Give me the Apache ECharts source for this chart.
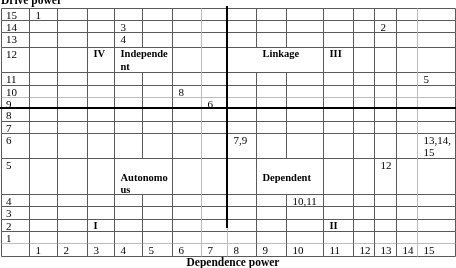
<!DOCTYPE html>
<html>
<head>
<meta charset="utf-8">
<script src="https://cdn.jsdelivr.net/npm/echarts@6/dist/echarts.min.js"></script>
<style>
  html, body { margin: 0; padding: 0; background: #fff; }
  #chart { width: 456px; height: 268px; }
</style>
</head>
<body>
<div id="chart"></div>
<script>
// tick labels
const dependenceTicks = ['1', '2', '3', '4', '5', '6', '7', '8', '9', '10', '11', '12', '13', '14', '15'];
const driveTicks = ['15', '14', '13', '12', '11', '10', '9', '8', '7', '6', '5', '4', '3', '2', '1'];

// variables placed in the matrix: [dependence, drive, label]
const variables = [
  [1, 15, '1'],
  [4, 14, '3'],
  [13, 14, '2'],
  [4, 13, '4'],
  [15, 11, '5'],
  [6, 10, '8'],
  [7, 9, '6'],
  [8, 6, '7,9'],
  [15, 6, '13,14,\n15'],
  [13, 5, '12'],
  [10, 4, '10,11']
];

// cluster names: [dependence, drive, label]
const clusters = [
  [3, 12, 'IV'],
  [4, 12, 'Independe\nnt'],
  [9, 12, 'Linkage'],
  [11, 12, 'III'],
  [4, 5, '\nAutonomo\nus'],
  [9, 5, '\nDependent'],
  [3, 2, 'I'],
  [11, 2, 'II']
];

// table layout (px): label column + 15 dependence columns, 15 drive rows + tick row
const colEdges = [1.5, 29.5, 57.5, 87.5, 114.5, 142.5, 172.5, 201.5, 227.5, 256.5, 286.5, 323.5, 353.5, 374.5, 396.5, 417.5, 455.5];
const rowEdges = [8.5, 20.5, 32.5, 47.5, 72.5, 85.5, 97.5, 108.5, 121.5, 133.5, 158.5, 194.5, 206.5, 219.5, 231.5, 243.5, 256.5];
const merges = [
  { drive: 12, from: 4, to: 5 },
  { drive: 12, from: 8, to: 10 },
  { drive: 5, from: 4, to: 5 },
  { drive: 5, from: 9, to: 10 }
];
const lightCols = [7, 8, 15];
const lightRows = [6, 15];

const rowOf = d => 15 - d;

// grid lines
const lines = [];
rowEdges.forEach((y, j) => {
  lines.push([colEdges[0], y, colEdges[16], y, lightRows.includes(j) ? 1 : 0]);
});
colEdges.forEach((x, i) => {
  for (let r = 0; r < 16; r++) {
    const hidden = merges.some(m => rowOf(m.drive) === r && i > m.from && i <= m.to);
    if (hidden) continue;
    lines.push([x, rowEdges[r], x, rowEdges[r + 1], lightCols.includes(i) ? 1 : 0]);
  }
});

// texts: [col, row, text, bold]
const texts = [];
driveTicks.forEach((t, r) => texts.push([0, r, t, false]));
dependenceTicks.forEach((t, c) => texts.push([c + 1, 15, t, false]));
variables.forEach(v => texts.push([v[0], rowOf(v[1]), v[2], false]));
clusters.forEach(v => texts.push([v[0], rowOf(v[1]), v[2], true]));

const chart = echarts.init(document.getElementById('chart'));

chart.setOption({
  animation: false,
  title: [
    {
      text: 'Drive power', left: 1, top: -5, padding: 0,
      textStyle: { fontFamily: 'Liberation Serif', fontSize: 11.5, fontWeight: 'bold', color: '#000' }
    },
    {
      text: 'Dependence power', left: 233, top: 257, padding: 0, textAlign: 'center',
      textStyle: { fontFamily: 'Liberation Serif', fontSize: 11.5, fontWeight: 'bold', color: '#000' }
    }
  ],
  grid: { left: 0, right: 0, top: 0, bottom: 0 },
  xAxis: { type: 'value', min: 0, max: 456, show: false },
  yAxis: { type: 'value', min: 0, max: 268, inverse: true, show: false },
  series: [
    {
      type: 'custom',
      silent: true,
      data: lines,
      renderItem: (params, api) => {
        const p1 = api.coord([api.value(0), api.value(1)]);
        const p2 = api.coord([api.value(2), api.value(3)]);
        return {
          type: 'line',
          shape: { x1: p1[0], y1: p1[1], x2: p2[0], y2: p2[1] },
          style: { stroke: api.value(4) ? '#bcbcbc' : '#5a5a5a', lineWidth: 1 }
        };
      }
    },
    {
      // quadrant dividers
      type: 'custom',
      silent: true,
      data: [
        [colEdges[8] - 0.5, 6, colEdges[8] - 0.5, 228],
        [0, rowEdges[7] - 0.5, 456, rowEdges[7] - 0.5]
      ],
      renderItem: (params, api) => {
        const p1 = api.coord([api.value(0), api.value(1)]);
        const p2 = api.coord([api.value(2), api.value(3)]);
        return {
          type: 'line',
          shape: { x1: p1[0], y1: p1[1], x2: p2[0], y2: p2[1] },
          style: { stroke: '#000', lineWidth: 2 }
        };
      }
    },
    {
      type: 'custom',
      silent: true,
      data: texts.map(t => [colEdges[t[0]], rowEdges[t[1]]]),
      renderItem: (params, api) => {
        const t = texts[params.dataIndex];
        const p = api.coord([api.value(0) + (t[0] === 0 ? 4.5 : 6), api.value(1) + 1]);
        return {
          type: 'text',
          x: p[0],
          y: p[1],
          style: {
            text: t[2],
            fontFamily: 'Liberation Serif',
            fontSize: t[3] ? 10.5 : 11,
            fontWeight: t[3] ? 'bold' : 'normal',
            lineHeight: 12.3,
            fill: '#000',
            verticalAlign: 'top',
            align: 'left'
          }
        };
      }
    }
  ]
});
</script>
</body>
</html>
